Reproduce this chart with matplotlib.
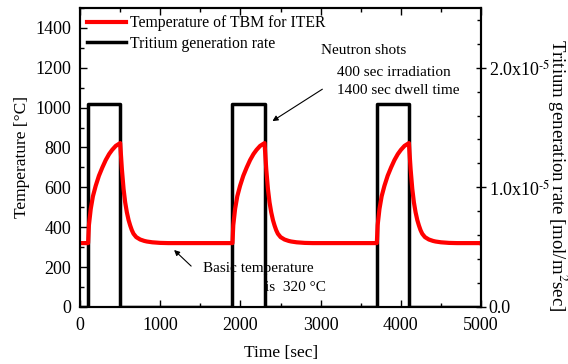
import matplotlib.pyplot as plt
import numpy as np
from matplotlib.ticker import MultipleLocator, FixedLocator

plt.rcParams['font.family'] = ['Liberation Serif', 'DejaVu Serif']
plt.rcParams['mathtext.fontset'] = 'stix'

# Pulsos de neutrons (inicio e fim de cada irradiacao)
shot_start = [100, 1900, 3700]
shot_end = [500, 2300, 4100]
rate_on = 1.7e-5

# Perfil de temperatura de um ciclo (tempo relativo ao inicio do pulso)
cycle_t = [0, 10, 33, 60, 95, 135, 178, 220, 262, 300, 345, 400,
           421, 442, 462, 483, 505, 525, 545, 566, 600, 649, 700, 732,
           800, 900, 1000, 1800]
cycle_T = [320, 410, 492, 555, 608, 658, 700, 737, 767, 788, 808, 822,
           692, 592, 525, 475, 435, 408, 385, 367, 350, 338, 331, 328,
           324, 321, 320, 320]

# Monta a curva completa
tempo = [0]
temp = [320]
for s in shot_start:
    for dt, T in zip(cycle_t, cycle_T):
        tempo.append(s + dt)
        temp.append(T)
tempo.append(5000)
temp.append(320)

# Taxa de geracao de tritio (degraus)
taxa_t = [0]
taxa = [0]
for a, b in zip(shot_start, shot_end):
    taxa_t += [a, a, b, b]
    taxa += [0, rate_on, rate_on, 0]
taxa_t.append(5000)
taxa.append(0)

fig = plt.figure(figsize=(5.68, 3.64), dpi=100)
ax = fig.add_axes([0.141, 0.157, 0.706, 0.821])
ax2 = ax.twinx()

l2, = ax2.plot(taxa_t, taxa, color='black', lw=2.5)
l1, = ax.plot(tempo, temp, color='red', lw=3)
ax.set_zorder(ax2.get_zorder() + 1)
ax.patch.set_visible(False)

ax.set_xlim(0, 5000)
ax.set_ylim(0, 1500)
ax2.set_ylim(0, 2.5e-5)

ax.xaxis.set_major_locator(MultipleLocator(1000))
ax.xaxis.set_minor_locator(MultipleLocator(500))
ax.yaxis.set_major_locator(FixedLocator([0, 200, 400, 600, 800, 1000, 1200, 1400]))
ax.yaxis.set_minor_locator(MultipleLocator(100))
ax.tick_params(which='both', direction='in', top=True, labelsize=13, width=1)
ax.tick_params(which='major', length=5)
ax.tick_params(which='minor', length=3)
ax.tick_params(axis='x', pad=7)
ax.tick_params(axis='y', pad=6.5)

ax2.yaxis.set_major_locator(FixedLocator([0, 1e-5, 2e-5]))
ax2.yaxis.set_minor_locator(MultipleLocator(0.2e-5))
ax2.set_yticklabels(['0.0', r'1.0x10$^{\text{-}5}$', r'2.0x10$^{\text{-}5}$'])
ax2.tick_params(which='both', direction='in', labelsize=13, width=1, pad=2)
ax2.tick_params(which='major', direction='inout', length=7)
ax2.tick_params(which='minor', length=3)

for a in (ax, ax2):
    for sp in a.spines.values():
        sp.set_linewidth(1.5)

ax.set_xlabel('Time [sec]', fontsize=12.5, labelpad=8)
ax.set_ylabel('Temperature [°C]', fontsize=12.5)
ax2.set_ylabel('Tritium generation rate [mol/m$^2$sec]', fontsize=13.5,
               rotation=270, va='center', ha='center')
ax2.yaxis.set_label_coords(1.19, 0.44)

ax.legend([l1, l2], ['Temperature of TBM for ITER', 'Tritium generation rate'],
          loc='upper left', frameon=False, fontsize=11.3, handlelength=2.5,
          borderaxespad=0.05, handletextpad=0.2, labelspacing=0.3)

ax.annotate('', xy=(2369, 925), xytext=(3050, 1100),
            arrowprops=dict(arrowstyle='-|>', color='black', lw=0.8,
                            mutation_scale=8))
ax.text(3010, 1285, 'Neutron shots', fontsize=11, va='center')
ax.text(3200, 1175, '400 sec irradiation', fontsize=11, va='center')
ax.text(3200, 1085, '1400 sec dwell time', fontsize=11, va='center')

ax.annotate('', xy=(1147, 295), xytext=(1410, 195),
            arrowprops=dict(arrowstyle='-|>', color='black', lw=0.8,
                            mutation_scale=8))
ax.text(1530, 195, 'Basic temperature', fontsize=11, va='center')
ax.text(2300, 95, 'is  320 °C', fontsize=11, va='center')

fig.savefig('out.png', dpi=100)
